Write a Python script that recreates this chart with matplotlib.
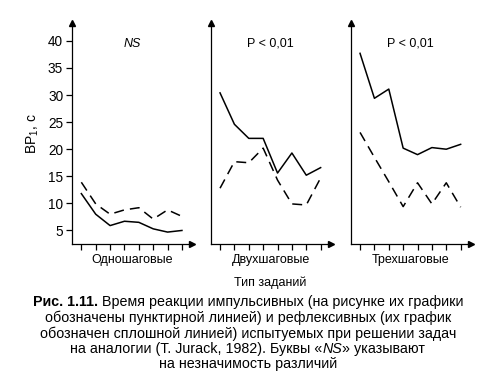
import numpy as np
import matplotlib
matplotlib.use('Agg')
import matplotlib.pyplot as plt
from matplotlib.offsetbox import TextArea, HPacker, AnnotationBbox

plt.rcParams['font.family'] = ['Liberation Sans', 'DejaVu Sans']
plt.rcParams['mathtext.fontset'] = 'custom'
plt.rcParams['mathtext.rm'] = 'Liberation Sans'
plt.rcParams['mathtext.it'] = 'Liberation Sans:italic'

# Data (8 tasks per group)
steps = np.arange(1, 9)
groups = ['Одношаговые', 'Двухшаговые', 'Трехшаговые']
notes = ['NS', 'P < 0,01', 'P < 0,01']
reflexive = [  # solid line
    [11.8, 8.0, 5.9, 6.7, 6.5, 5.3, 4.7, 5.0],
    [30.4, 24.6, 22.0, 22.0, 15.6, 19.3, 15.2, 16.6],
    [37.7, 29.4, 31.1, 20.2, 19.0, 20.3, 20.0, 20.9],
]
impulsive = [  # dashed line
    [13.9, 9.9, 8.0, 8.8, 9.2, 7.1, 8.8, 7.6],
    [12.8, 17.7, 17.5, 20.2, 14.3, 9.9, 9.7, 14.7],
    [23.1, 18.5, 14.0, 9.4, 13.8, 9.9, 13.8, 9.3],
]
yticks = [5, 10, 15, 20, 25, 30, 35, 40]

W, H = 494, 380
fig = plt.figure(figsize=(W / 100, H / 100), dpi=100)

lefts = [72, 210.7, 350.7]
ax_w, top_px, bot_px = 120, 23, 244

for i, left in enumerate(lefts):
    ax = fig.add_axes([left / W, 1 - bot_px / H, ax_w / W, (bot_px - top_px) / H])
    ax.plot(steps, reflexive[i], color='black', lw=1.1)
    ax.plot(steps, impulsive[i], color='black', lw=1.1, dashes=(6.5, 4))
    ax.set_xlim(0.35, 8.7)
    ax.set_ylim(2.5, 43.3)
    for s in ['top', 'right']:
        ax.spines[s].set_visible(False)
    ax.spines['left'].set_linewidth(0.9)
    ax.spines['bottom'].set_linewidth(0.9)
    ax.plot(1, 0, '>k', ms=4, transform=ax.transAxes, clip_on=False)
    ax.plot(0, 1, '^k', ms=4, transform=ax.transAxes, clip_on=False)
    ax.set_xticks(steps)
    ax.set_xticklabels([])
    ax.tick_params(axis='x', direction='out', length=4.3, width=0.9)
    if i == 0:
        ax.set_yticks(yticks)
        ax.tick_params(axis='y', direction='out', length=4.3, width=0.9,
                       labelsize=9.8, pad=2)
        ax.text(-0.33, 0.5, 'ВР$_1$, с', rotation=90, fontsize=10,
                ha='center', va='center', transform=ax.transAxes)
    else:
        ax.set_yticks([])
    ax.text(0.5, 0.905, notes[i], fontsize=9, ha='center', va='center',
            style='italic' if i == 0 else 'normal', transform=ax.transAxes)
    ax.text(0.5, -0.072, groups[i], fontsize=9, ha='center', va='center',
            transform=ax.transAxes)

fig.text(270 / W, 1 - 283 / H, 'Тип заданий', fontsize=9, ha='center', va='center')

# caption
cap_font = dict(size=10.3, family=['Liberation Sans', 'DejaVu Sans'])


def caption_line(parts, y):
    boxes = [TextArea(t, textprops=dict(cap_font, **p)) for t, p in parts]
    pack = HPacker(children=boxes, pad=0, sep=0, align='baseline')
    ab = AnnotationBbox(pack, (248 / W, 1 - y / H), xycoords='figure fraction',
                        frameon=False, box_alignment=(0.5, 0.5), pad=0)
    fig.add_artist(ab)


caption_line([('Рис. 1.11.', dict(weight='bold')),
              (' Время реакции импульсивных (на рисунке их графики', {})], 301.7)
caption_line([('обозначены пунктирной линией) и рефлексивных (их график', {})], 317.3)
caption_line([('обозначен сплошной линией) испытуемых при решении задач', {})], 333.3)
caption_line([('на аналогии (T. Jurack, 1982). Буквы «', {}),
              ('NS', dict(style='italic')), ('» указывают', {})], 349)
caption_line([('на незначимость различий', {})], 364.3)

fig.savefig('out.png', dpi=100)
